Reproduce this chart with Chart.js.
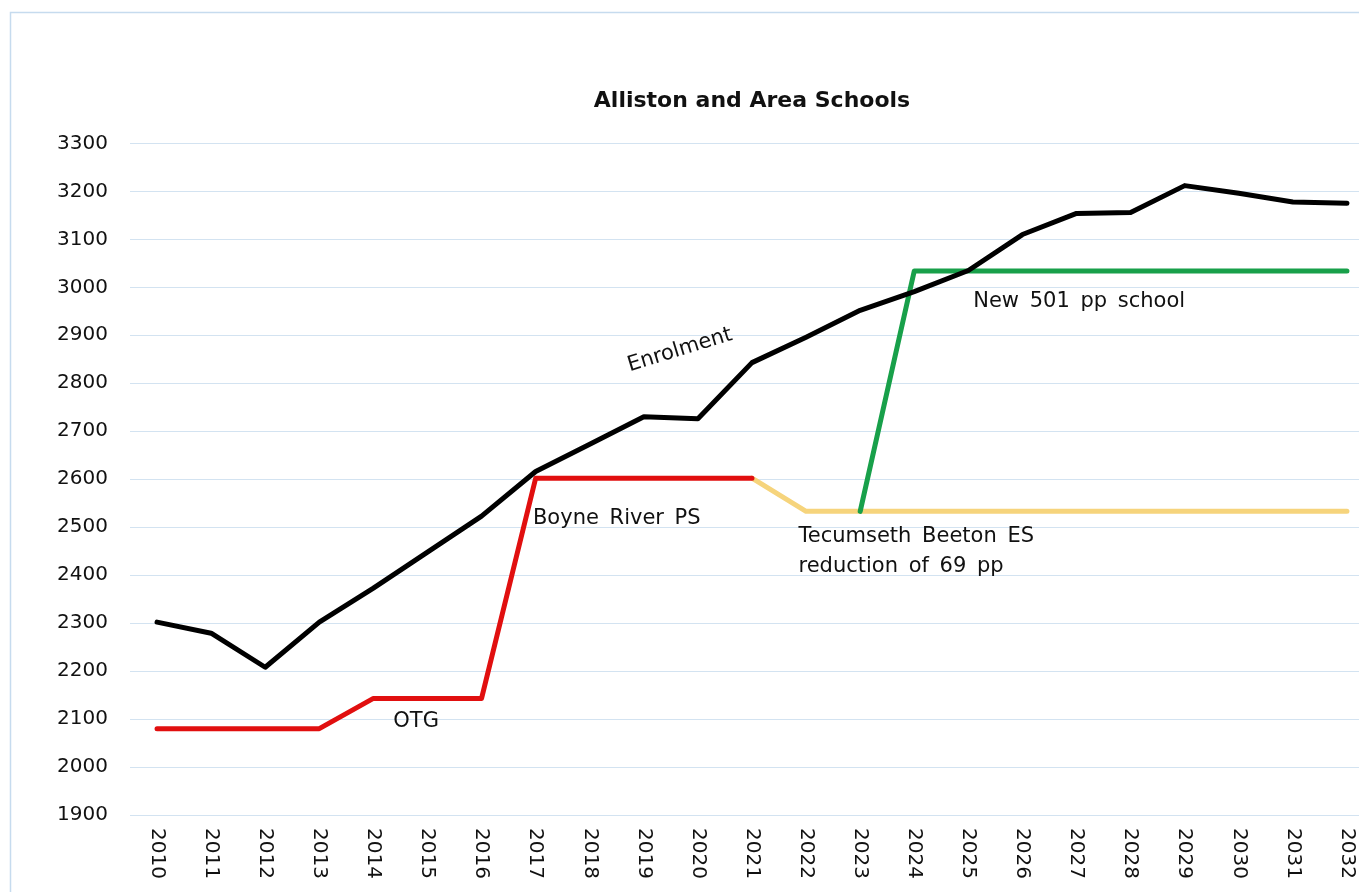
<!DOCTYPE html>
<html>
<head>
<meta charset="utf-8">
<script src="https://cdn.jsdelivr.net/npm/chart.js@4.4.1/dist/chart.umd.min.js"></script>
<style>
html,body{margin:0;padding:0;overflow:hidden;background:#ffffff;width:1359px;height:892px}
#wrap{position:relative;width:1374px;height:892px}
canvas{display:block}
</style>
</head>
<body>
<div id="wrap"><canvas id="c" width="1374" height="892"></canvas></div>
<script>
// ---- data ----
const years = ['2010','2011','2012','2013','2014','2015','2016','2017','2018','2019','2020','2021','2022','2023','2024','2025','2026','2027','2028','2029','2030','2031','2032'];
const enrolment = [2302,2279,2208,2302,2373,2448,2523,2616,2673,2730,2726,2843,2896,2952,2991,3035,3110,3154,3156,3212,3196,3178,3175];
const capacityOTG = [2080,2080,2080,2080,2143,2143,2143,2602,2602,2602,2602,2602,null,null,null,null,null,null,null,null,null,null,null];
const capacityTecumseth = [null,null,null,null,null,null,null,null,null,null,null,2602,2533,2533,2533,2533,2533,2533,2533,2533,2533,2533,2533];
const capacityNewSchool = [null,null,null,null,null,null,null,null,null,null,null,null,null,2533,3034,3034,3034,3034,3034,3034,3034,3034,3034];
const yTicks = [1900,2000,2100,2200,2300,2400,2500,2600,2700,2800,2900,3000,3100,3200,3300];
const titleText = 'Alliston and Area Schools';

// ---- annotations (position in data coordinates: category index, value) ----
const notes = [
  {lines:['Enrolment'], xi:9.67, yv:2869, align:'center', rot:-17},
  {lines:['OTG'], xi:4.79, yv:2094, align:'center', rot:0},
  {lines:['Boyne River PS'], xi:6.95, yv:2517, align:'left', rot:0},
  {lines:['Tecumseth Beeton ES','reduction of 69 pp'], xi:11.86, yv:2481, align:'left', rot:0, lineGap:62.5},
  {lines:['New 501 pp school'], xi:15.09, yv:2971, align:'left', rot:0}
];

const FONT = "'DejaVu Sans', 'Liberation Sans', Arial, sans-serif";
const TEXT = '#111111';

const framePlugin = {
  id: 'frame',
  beforeDraw(chart) {
    const ctx = chart.ctx;
    ctx.save();
    ctx.fillStyle = '#ffffff';
    ctx.fillRect(0, 0, chart.width, chart.height);
    ctx.strokeStyle = '#c6dbee';
    ctx.lineWidth = 1.5;
    ctx.strokeRect(10.5, 12.5, chart.width + 50, chart.height + 50);
    ctx.restore();
  }
};

const labelsPlugin = {
  id: 'xlabels',
  afterDraw(chart) {
    const ctx = chart.ctx;
    const xs = chart.scales.x;
    const ys = chart.scales.y;
    ctx.save();
    // rotated x tick labels (reading top to bottom)
    ctx.fillStyle = TEXT;
    ctx.font = '20px ' + FONT;
    ctx.textAlign = 'left';
    ctx.textBaseline = 'middle';
    xs.getLabels().forEach((lab, i) => {
      const x = xs.getPixelForTick(i);
      ctx.save();
      ctx.translate(x, xs.top + 13);
      ctx.rotate(Math.PI / 2);
      ctx.fillText(lab, 0, 0);
      ctx.restore();
    });
    // annotations
    ctx.font = '21px ' + FONT;
    try { ctx.wordSpacing = '4px'; } catch (e) {}
    notes.forEach(n => {
      const x = xs.getPixelForValue(n.xi);
      const y = ys.getPixelForValue(n.yv);
      const gap = n.lineGap ? (ys.getPixelForValue(n.yv - n.lineGap) - y) : 0;
      ctx.save();
      ctx.translate(x, y);
      ctx.rotate(n.rot * Math.PI / 180);
      ctx.textAlign = n.align;
      ctx.textBaseline = 'middle';
      n.lines.forEach((t, k) => ctx.fillText(t, 0, k * gap));
      ctx.restore();
    });
    ctx.restore();
  }
};

const common = {fill:false, pointRadius:0, pointHoverRadius:0, borderWidth:5, tension:0, borderCapStyle:'round', borderJoinStyle:'round', spanGaps:false};

new Chart(document.getElementById('c'), {
  type: 'line',
  data: {
    labels: years,
    datasets: [
      Object.assign({label:'Enrolment', data:enrolment, borderColor:'#000000'}, common),
      Object.assign({label:'New 501 pp school', data:capacityNewSchool, borderColor:'#18a04a'}, common),
      Object.assign({label:'OTG', data:capacityOTG, borderColor:'#e10f0f'}, common),
      Object.assign({label:'Tecumseth Beeton ES', data:capacityTecumseth, borderColor:'#f6d47c'}, common)
    ]
  },
  options: {
    responsive: false,
    animation: false,
    devicePixelRatio: 1,
    events: [],
    layout: {padding: {left:0, right:0, top:0, bottom:0}},
    plugins: {
      legend: {display:false},
      tooltip: {enabled:false},
      title: {
        display: true,
        text: titleText,
        fullSize: false,
        color: TEXT,
        font: {family: FONT, size: 22, weight: 'bold', lineHeight: 1.2},
        padding: {top: 88, bottom: 29}
      }
    },
    scales: {
      x: {
        type: 'category',
        offset: true,
        grid: {display:false, drawTicks:false},
        border: {display:false},
        ticks: {display:false},
        afterFit(scale) { scale.height = 77; }
      },
      y: {
        min: 1900,
        max: 3300,
        afterBuildTicks(scale) { scale.ticks = yTicks.map(v => ({value:v})); },
        grid: {color:'#d3e3f1', lineWidth:1, drawTicks:false},
        border: {display:false},
        ticks: {color:TEXT, font:{family:FONT, size:20}, padding:22, callback: v => String(v)},
        afterFit(scale) { scale.width = 130; }
      }
    }
  },
  plugins: [framePlugin, labelsPlugin]
});
</script>
</body>
</html>
